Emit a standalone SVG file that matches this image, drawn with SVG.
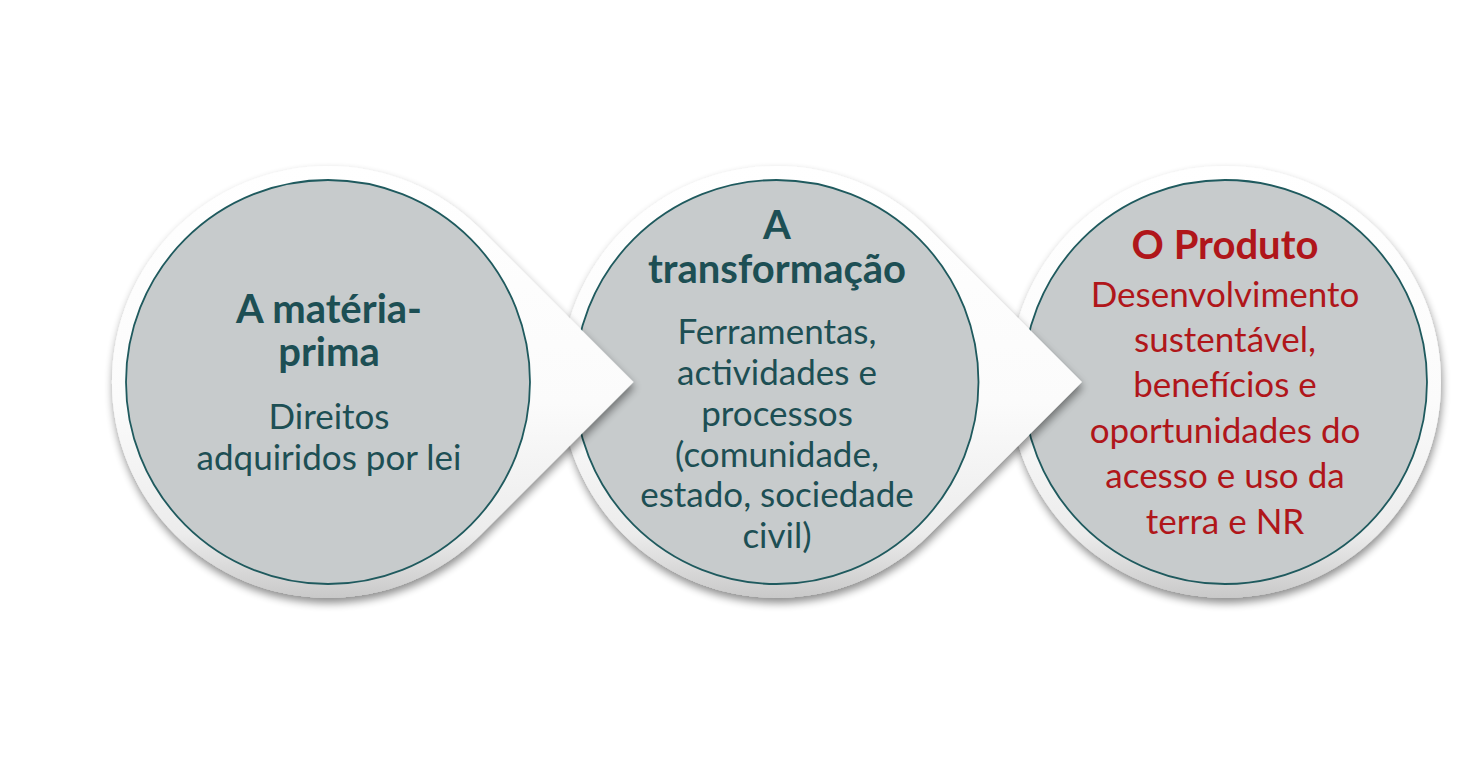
<svg xmlns="http://www.w3.org/2000/svg" width="1465" height="765" viewBox="0 0 1465 765">
<style>
.circ{fill:#c7cbcc;stroke:#1f5a5e;stroke-width:1.8}
.halo{fill:url(#haloGrad);filter:url(#shadow)}
text{font-family:Lato,"Open Sans","Liberation Sans",sans-serif;text-anchor:middle}
.t{font-size:40px;font-weight:bold;fill:#1d4f54}
.b{font-size:35px;fill:#1d4f54}
.tr{font-size:40px;font-weight:bold;fill:#b0161a}
.br{font-size:35px;fill:#b0161a}
</style>
<defs>
<linearGradient id="haloGrad" x1="0" y1="0" x2="0" y2="1">
<stop offset="0" stop-color="#ffffff"/>
<stop offset="0.55" stop-color="#fbfbfb"/>
<stop offset="0.85" stop-color="#ececec"/>
<stop offset="1" stop-color="#c9c9c9"/>
</linearGradient>
<filter id="shadow" x="-10%" y="-10%" width="120%" height="125%">
<feGaussianBlur in="SourceAlpha" stdDeviation="4"/>
<feOffset dx="1" dy="5" result="b"/>
<feComponentTransfer><feFuncA type="linear" slope="0.45"/></feComponentTransfer>
<feMerge><feMergeNode/><feMergeNode in="SourceGraphic"/></feMerge>
</filter>
</defs>
<rect width="1465" height="765" fill="#ffffff"/>
<g id="connectors"></g>
<g id="node3">
<circle class="halo" cx="1225" cy="382" r="216"/>
<circle class="circ" cx="1225" cy="382" r="202"/>
<text class="tr" x="1225" y="259">O Produto</text>
<text class="br" x="1225" y="307">Desenvolvimento</text>
<text class="br" x="1225" y="352">sustentável,</text>
<text class="br" x="1225" y="397">benefícios e</text>
<text class="br" x="1225" y="443">oportunidades do</text>
<text class="br" x="1225" y="488">acesso e uso da</text>
<text class="br" x="1225" y="534">terra e NR</text>
</g>
<g id="node2">
<path class="halo" d="M929.2,229.3 L1082,382 L929.2,534.7 A216,216 0 1 1 929.2,229.3 Z"/>
<circle class="circ" cx="776.5" cy="382" r="202"/>
<text class="t" x="777" y="239">A</text>
<text class="t" x="777" y="283">transformação</text>
<text class="b" x="777" y="344">Ferramentas,</text>
<text class="b" x="777" y="385">actividades e</text>
<text class="b" x="777" y="426">processos</text>
<text class="b" x="777" y="467">(comunidade,</text>
<text class="b" x="777" y="507">estado, sociedade</text>
<text class="b" x="777" y="548">civil)</text>
</g>
<g id="node1">
<path class="halo" d="M480.7,229.3 L633.5,382 L480.7,534.7 A216,216 0 1 1 480.7,229.3 Z"/>
<circle class="circ" cx="328" cy="382" r="202"/>
<text class="t" x="329" y="323">A matéria-</text>
<text class="t" x="329" y="366">prima</text>
<text class="b" x="329" y="429">Direitos</text>
<text class="b" x="329" y="470">adquiridos por lei</text>
</g>
</svg>
